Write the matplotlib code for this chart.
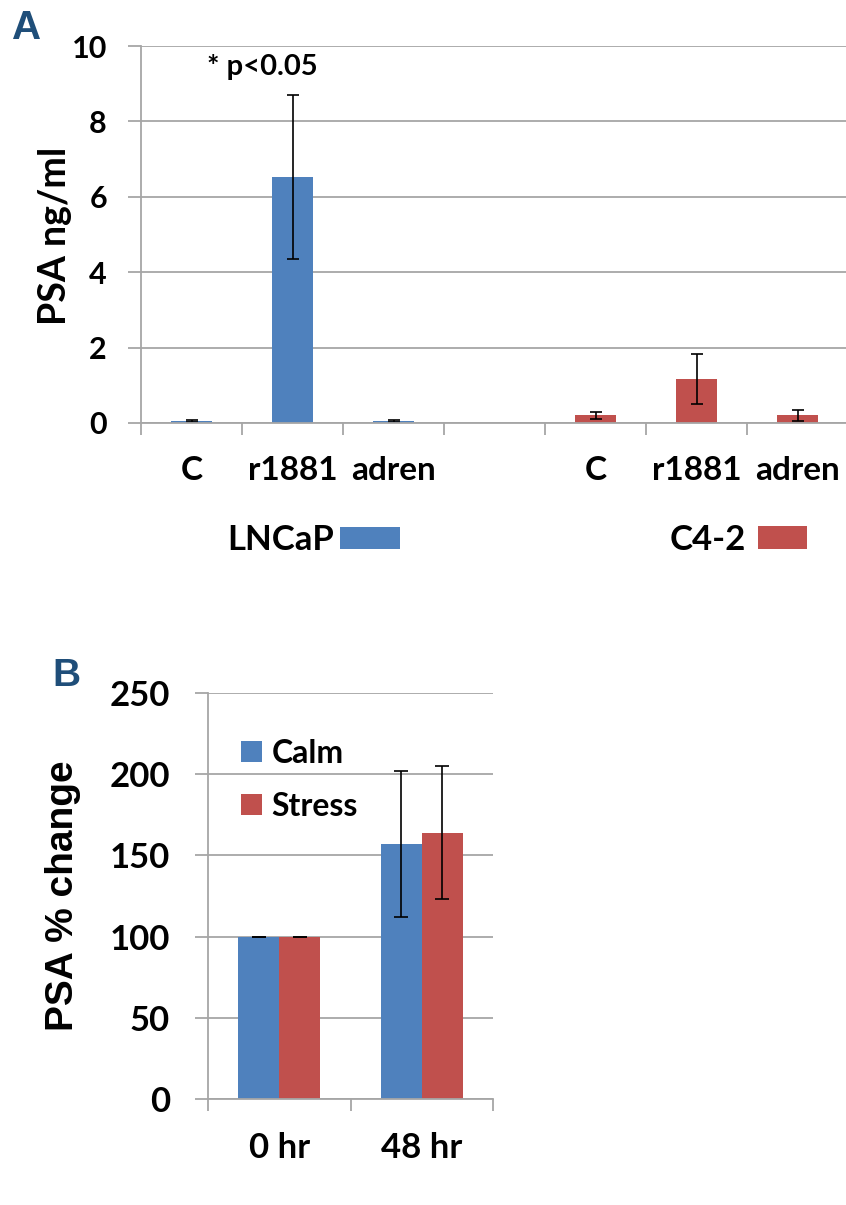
import matplotlib.pyplot as plt
import numpy as np

plt.rcParams['font.family'] = ['Lato', 'DejaVu Sans']

# ---------------------------------------------------------------- #
# Data
# ---------------------------------------------------------------- #
a_labels = ['C', 'r1881', 'adren', 'C', 'r1881', 'adren']
a_lncap = [0.05, 6.52, 0.05]
a_lncap_err = [0.02, 2.17, 0.02]
a_c42 = [0.20, 1.16, 0.20]
a_c42_err = [0.09, 0.66, 0.15]

b_labels = ['0 hr', '48 hr']
b_calm = [100, 157]
b_calm_err = [0, 45]
b_stress = [100, 164]
b_stress_err = [0, 41]

blue = '#4f81bd'
red = '#c0504d'
gray = '#a6a6a6'
W, H = 846, 1205


def box(l, t, r, b):
    return [l / W, 1 - b / H, (r - l) / W, (b - t) / H]


def style(ax, ypad, xpad):
    ax.yaxis.grid(True, color=gray, lw=1.3)
    ax.set_axisbelow(True)
    for s in ['top', 'right']:
        ax.spines[s].set_visible(False)
    for s in ['left', 'bottom']:
        ax.spines[s].set_color(gray)
        ax.spines[s].set_linewidth(1.3)
    ax.tick_params(axis='y', length=9.5, width=1.3, color=gray, pad=ypad)
    ax.tick_params(axis='x', which='major', length=8.6, width=1.3, color=gray, labelbottom=False)
    ax.tick_params(axis='x', which='minor', length=0, pad=xpad)
    for lab in ax.get_yticklabels() + ax.get_xticklabels(minor=True):
        lab.set_fontweight('bold')


fig = plt.figure(figsize=(W / 100, H / 100), dpi=100)

# ---------------------------------------------------------------- #
# Panel A
# ---------------------------------------------------------------- #
axA = fig.add_axes(box(141, 46, 846, 423))
xL = np.arange(3)
xC = np.arange(3) + 4
barsL = axA.bar(xL, a_lncap, width=0.4, color=blue)
barsC = axA.bar(xC, a_c42, width=0.4, color=red)
axA.errorbar(xL, a_lncap, yerr=a_lncap_err, fmt='none', ecolor='black', elinewidth=1.2, capsize=4, capthick=1.2)
axA.errorbar(xC, a_c42, yerr=a_c42_err, fmt='none', ecolor='black', elinewidth=1.2, capsize=4, capthick=1.2)
axA.set_xlim(-0.5, 6.48)
axA.set_ylim(0, 10)
axA.set_yticks([0, 2, 4, 6, 8, 10])
axA.set_yticklabels(['0', '2', '4', '6', '8', '10'], fontsize=22)
axA.set_xticks(np.arange(7) - 0.5)
axA.set_xticks(list(xL) + list(xC), minor=True)
axA.set_xticklabels(a_labels, minor=True, fontsize=24)
style(axA, 15, 24)
axA.text(0.7, 9.45, '* p<0.05', ha='center', va='center', fontsize=21, fontweight='bold')

legA1 = axA.legend([barsL], ['LNCaP'], loc='center', bbox_to_anchor=(314 / W, 1 - 540 / H),
                   bbox_transform=fig.transFigure, markerfirst=False, frameon=False,
                   handlelength=1.75, handleheight=0.6, handletextpad=0.15, borderpad=0,
                   prop={'weight': 'bold', 'size': 25})
axA.add_artist(legA1)
axA.legend([barsC], ['C4-2'], loc='center', bbox_to_anchor=(738 / W, 1 - 540 / H),
           bbox_transform=fig.transFigure, markerfirst=False, frameon=False,
           handlelength=1.4, handleheight=0.65, handletextpad=0.35, borderpad=0,
           prop={'weight': 'bold', 'size': 25})

fig.text(55 / W, 1 - 236 / H, 'PSA ng/ml', rotation=90, ha='center', va='center',
         fontsize=27, fontweight='bold')

# ---------------------------------------------------------------- #
# Panel B
# ---------------------------------------------------------------- #
axB = fig.add_axes(box(208, 693, 493, 1099))
xB = np.arange(2)
bw = 0.287
barsCalm = axB.bar(xB - bw / 2, b_calm, width=bw, color=blue, label='Calm')
barsStress = axB.bar(xB + bw / 2, b_stress, width=bw, color=red, label='Stress')
axB.errorbar(xB - bw / 2, b_calm, yerr=b_calm_err, fmt='none', ecolor='black', elinewidth=1.2, capsize=5, capthick=1.2)
axB.errorbar(xB + bw / 2, b_stress, yerr=b_stress_err, fmt='none', ecolor='black', elinewidth=1.2, capsize=5, capthick=1.2)
axB.set_xlim(-0.5, 1.5)
axB.set_ylim(0, 250)
axB.set_yticks([0, 50, 100, 150, 200, 250])
axB.set_yticklabels(['0', '50', '100', '150', '200', '250'], fontsize=25)
axB.set_xticks([-0.5, 0.5, 1.5])
axB.set_xticks(xB, minor=True)
axB.set_xticklabels(b_labels, minor=True, fontsize=25)
style(axB, 18, 24)
axB.legend(loc='upper left', bbox_to_anchor=(241 / W, 1 - 739 / H), bbox_transform=fig.transFigure,
           frameon=False, handlelength=0.65, handleheight=0.65, handletextpad=0.3,
           labelspacing=0.75, borderpad=0, borderaxespad=0, prop={'weight': 'bold', 'size': 23})

fig.text(63 / W, 1 - 896 / H, 'PSA % change', rotation=90, ha='center', va='center',
         fontsize=28, fontweight='bold', family='Liberation Sans')

# panel letters
fig.text(12 / W, 1 - 39 / H, 'A', color='#1f4e79', fontsize=29, fontweight='bold',
         family='Liberation Sans', va='baseline')
fig.text(52 / W, 1 - 686 / H, 'B', color='#1f4e79', fontsize=28, fontweight='bold',
         family='Liberation Sans', va='baseline')

plt.savefig('out.png', dpi=100)
